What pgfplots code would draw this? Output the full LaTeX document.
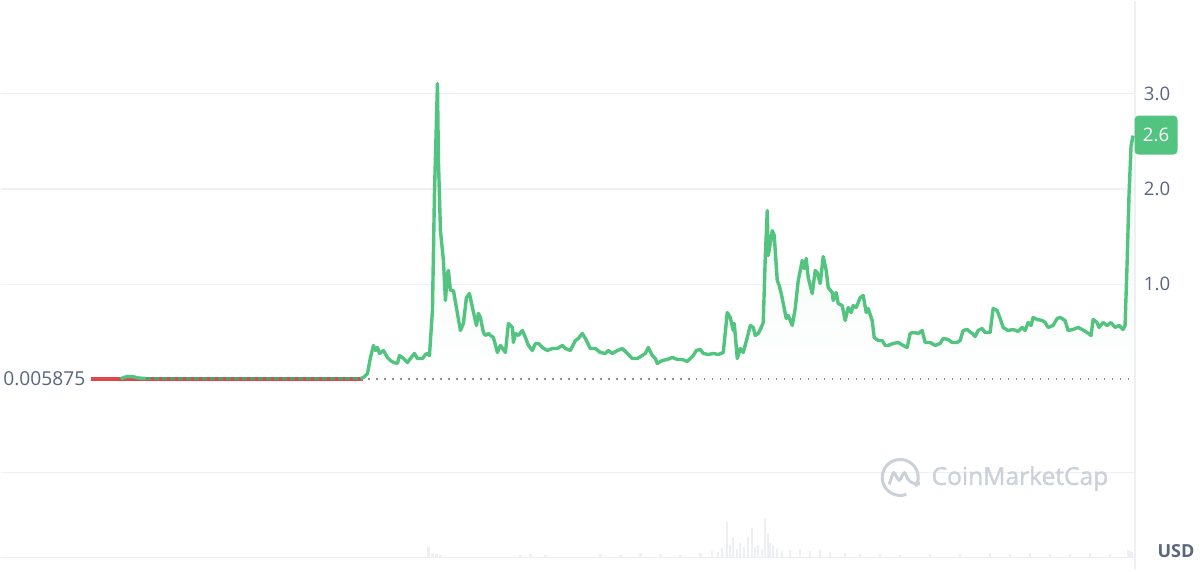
\documentclass[border=0pt]{standalone}
\usepackage{pgfplots}
\pgfplotsset{compat=1.18}
\usepackage{pgfplotstable}
\usepackage{fontspec}
\setmainfont{Open Sans}
\newfontfamily\wmfont{Open Sans}[FakeBold=1.5]
\definecolor{cmcgreen}{HTML}{52C47F}
\definecolor{cmcred}{HTML}{E0464C}
\definecolor{txtgray}{HTML}{58667E}
\definecolor{gridc}{HTML}{EEF0F3}
\definecolor{wm}{HTML}{CBD0DA}
\definecolor{volc}{HTML}{EDEFF2}

\pgfplotstableread{
x v
360 0.010
363 0.021
367 0.063
370 0.231
373 0.357
375 0.304
377 0.336
379 0.273
383 0.304
387 0.231
390 0.199
393 0.178
397 0.168
399 0.252
403 0.220
407 0.178
410 0.220
414 0.273
417 0.220
422 0.220
426 0.273
429 0.252
432 0.724
434 1.952
437 3.106
438 2.298
440 1.563
443 1.249
445 0.829
447 1.112
448 1.144
450 0.934
453 0.934
457 0.693
460 0.514
463 0.588
466 0.860
469 0.902
472 0.756
476 0.567
478 0.693
480 0.650
483 0.493
485 0.462
488 0.483
490 0.462
493 0.441
497 0.283
500 0.357
505 0.283
508 0.588
512 0.546
513 0.388
515 0.483
518 0.462
522 0.514
525 0.441
528 0.357
532 0.304
535 0.378
538 0.378
542 0.336
547 0.304
552 0.325
557 0.325
562 0.357
565 0.325
570 0.304
575 0.409
578 0.430
582 0.483
585 0.430
590 0.325
595 0.325
600 0.283
605 0.273
608 0.304
612 0.273
617 0.304
622 0.325
627 0.273
632 0.220
637 0.220
642 0.252
645 0.273
648 0.336
652 0.252
655 0.220
657 0.168
662 0.199
667 0.210
672 0.231
677 0.210
682 0.210
687 0.189
690 0.220
693 0.252
696 0.304
700 0.315
703 0.273
708 0.262
713 0.273
718 0.262
723 0.283
727 0.703
730 0.651
733 0.514
734 0.588
737 0.220
740 0.325
743 0.283
747 0.441
750 0.567
753 0.546
755 0.462
758 0.483
761 0.546
763 0.598
765 1.280
767 1.773
768 1.301
770 1.427
772 1.563
774 1.511
777 1.039
779 0.986
781 0.902
783 0.797
786 0.640
788 0.672
792 0.567
795 0.745
798 1.039
802 1.249
804 1.165
806 1.270
808 1.070
812 0.902
815 1.144
817 1.123
820 1.007
823 1.291
826 1.144
828 0.965
832 0.913
833 0.829
836 0.913
838 0.797
842 0.776
845 0.619
848 0.756
851 0.703
853 0.776
856 0.756
860 0.860
863 0.881
866 0.703
868 0.745
872 0.619
874 0.441
878 0.409
882 0.409
885 0.357
888 0.357
893 0.378
898 0.388
903 0.357
907 0.336
910 0.483
913 0.493
918 0.483
922 0.514
925 0.388
930 0.388
935 0.357
940 0.378
943 0.430
948 0.420
952 0.388
957 0.388
960 0.409
963 0.514
967 0.525
972 0.483
975 0.451
978 0.514
982 0.535
985 0.493
990 0.493
993 0.745
997 0.724
1000 0.640
1003 0.546
1008 0.514
1013 0.525
1018 0.504
1022 0.546
1025 0.514
1028 0.598
1031 0.567
1033 0.651
1037 0.630
1042 0.619
1045 0.598
1048 0.546
1053 0.567
1057 0.640
1060 0.651
1065 0.619
1068 0.514
1073 0.525
1078 0.546
1082 0.525
1087 0.493
1091 0.462
1093 0.630
1097 0.598
1099 0.546
1103 0.598
1107 0.567
1111 0.598
1115 0.546
1119 0.567
1123 0.525
1125 0.567
1127 1.200
1129 1.950
1131 2.450
1133 2.560
}\price

\pgfplotstableread{
x h
428 10
432 4
436 3
440 2
520 2
530 3
545 2
600 3
620 2
640 4
660 3
680 2
700 4
712 6
718 5
722 9
727 35
730 12
733 20
737 8
740 14
744 10
748 20
752 29
755 10
758 12
762 8
765 39
768 24
770 14
773 12
777 8
782 6
790 7
800 8
810 6
820 7
830 5
845 4
860 3
880 3
900 2
930 3
960 3
990 4
1010 3
1030 4
1050 3
1070 3
1090 4
1110 3
1128 7
1130 6
1132 5
}\volume

\begin{document}
\begin{tikzpicture}
% volume (background axis)
\begin{axis}[
  scale only axis, width=567.5pt, height=285.5pt,
  xmin=0, xmax=1135, ymin=-14, ymax=557,
  hide axis, clip=false]
\addplot[ycomb, draw=volc, line width=1.2pt, mark=none] table[x=x,y=h] {\volume};
\end{axis}
% price axis
\begin{axis}[
  scale only axis, width=567.5pt, height=285.5pt,
  xmin=0, xmax=1135, ymin=-2.015, ymax=3.977,
  axis line style={draw=none},
  tick style={draw=none},
  xtick=\empty,
  ytick={1,2,3},
  yticklabels={1.0,2.0,3.0},
  yticklabel pos=right,
  yticklabel style={font=\fontsize{9.3}{10}\selectfont, text=txtgray, anchor=center, xshift=11pt},
  ymajorgrids,
  grid style={draw=gridc, line width=0.7pt},
  extra y ticks={-0.976,-1.868},
  extra y tick labels={},
  extra tick style={grid=major},
  clip=false]
% bounding box of the full picture
\path (axis cs:0,-2.015) rectangle (axis cs:1200,3.977);
% right border
\draw[gridc, line width=0.7pt] (axis cs:1135,3.977) -- (axis cs:1135,-2.0);
% fill under green line
\addplot[draw=none, top color=cmcgreen!13, bottom color=white, forget plot] table[x=x,y=v] {\price} \closedcycle;
% baseline dotted
\addplot[draw=black!45, line width=0.8pt, dash pattern=on 0.6pt off 3.4pt, forget plot] coordinates {(360,0.006) (1135,0.006)};
% flat early part
\addplot[draw=cmcred, line width=1.7pt, forget plot] coordinates {(90,0.006) (363,0.006)};
\addplot[draw=cmcgreen!85!black, line width=1.2pt, dash pattern=on 2.5pt off 1.5pt, forget plot] coordinates {(145,0.010) (360,0.010)};
\addplot[draw=cmcgreen, line width=1.7pt, forget plot] coordinates {(120,0.008) (126,0.030) (132,0.030) (138,0.015) (145,0.010)};
% price line
\addplot[draw=cmcgreen, line width=1.7pt, line join=round, forget plot] table[x=x,y=v] {\price};
% labels
\node[anchor=east, text=txtgray, font=\fontsize{9.6}{10}\selectfont, inner sep=0pt] at (axis cs:85,0.006) {0.005875};
\node[fill=cmcgreen, rounded corners=2pt, text=white, font=\fontsize{9.3}{10}\selectfont, minimum width=21.5pt, minimum height=19.5pt, inner sep=0pt] at (axis cs:1156,2.566) {2.6};
\node[text=txtgray, font=\bfseries\fontsize{9}{10}\selectfont, inner sep=0pt] at (axis cs:1176,-1.805) {USD};
% watermark
\draw[wm, line width=1.5pt] (axis cs:900,-1.029) ++(-30:9pt) arc[start angle=-30, end angle=290, radius=9pt];
\draw[wm, line width=1.5pt, rounded corners=1.3pt] (axis cs:900,-1.029) ++(-5.5pt,-3.5pt) -- ++(2.2pt,6.5pt) -- ++(2.8pt,-5pt) -- ++(2.6pt,5pt) -- ++(2pt,-4.5pt) -- ++(2.8pt,-1.6pt) -- ++(3pt,0pt);
\node[anchor=west, text=wm, font=\wmfont\fontsize{12.3}{14}\selectfont, inner sep=0pt] at (axis cs:931,-1.04) {CoinMarketCap};
\end{axis}
\end{tikzpicture}
\end{document}
